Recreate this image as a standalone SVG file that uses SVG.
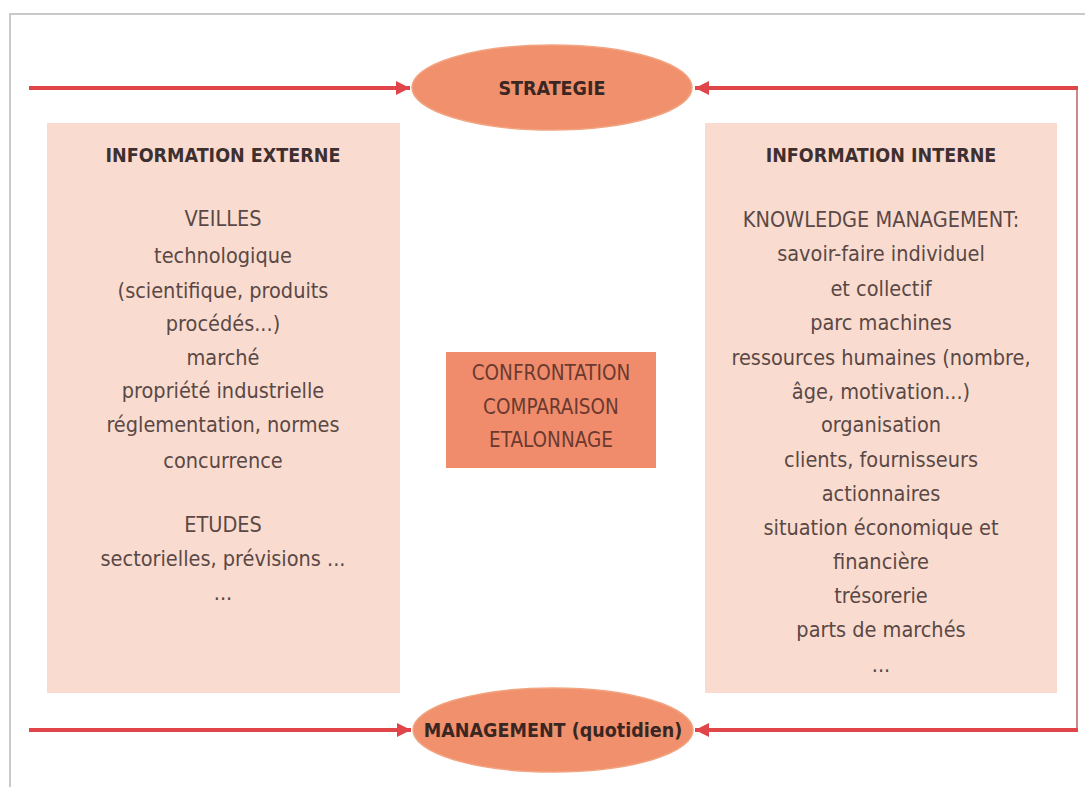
<svg xmlns="http://www.w3.org/2000/svg" width="1085" height="787" viewBox="0 0 1085 787">
<style>
.frame{stroke:#c9c9c9;stroke-width:2;fill:none}
.flow{stroke:#e0454a;stroke-width:4;fill:none}
.side{stroke:#c98a90;stroke-width:2;fill:none}
.box{fill:#f9dccf}
.ell{fill:#f0906c;stroke:#f2a37f;stroke-width:1.5}
.cbox{fill:#f08c6c}
.t{font-family:"DejaVu Sans Condensed","DejaVu Sans",sans-serif;font-size:21.5px;fill:#5a4846;text-anchor:middle}
.h{font-family:"DejaVu Sans Condensed","DejaVu Sans",sans-serif;font-size:19.5px;font-weight:bold;fill:#3e3030;text-anchor:middle}
.e{font-family:"DejaVu Sans Condensed","DejaVu Sans",sans-serif;font-size:19.5px;font-weight:bold;fill:#3a2622;text-anchor:middle}
.c{font-family:"DejaVu Sans Condensed","DejaVu Sans",sans-serif;font-size:20.5px;fill:#6a3a30;text-anchor:middle}
</style>
<defs>
<marker id="ah" viewBox="0 0 10 10" refX="10" refY="5" markerWidth="4" markerHeight="3.5" orient="auto" markerUnits="strokeWidth">
<path d="M0,0 L10,5 L0,10 z" fill="#e0454a"/>
</marker>
</defs>
<rect width="1085" height="787" fill="#ffffff"/>
<path class="frame" d="M10,787 L10,14 L1085,14"/>
<g id="connectors">
<path class="side" d="M1077,88 L1077,730"/>
<path class="flow" d="M29,88 L410,88" marker-end="url(#ah)"/>
<path class="flow" d="M1078,88 L695,88" marker-end="url(#ah)"/>
<path class="flow" d="M29,730 L411,730" marker-end="url(#ah)"/>
<path class="flow" d="M1078,730 L695,730" marker-end="url(#ah)"/>
</g>
<g id="strategie">
<ellipse class="ell" cx="552" cy="87.5" rx="140" ry="42.5"/>
<text class="e" x="552" y="95">STRATEGIE</text>
</g>
<g id="management">
<ellipse class="ell" cx="553" cy="730" rx="140" ry="42"/>
<text class="e" x="553" y="737">MANAGEMENT (quotidien)</text>
</g>
<g id="externe">
<rect class="box" x="47" y="123" width="353" height="570"/>
<text class="h" x="223" y="162">INFORMATION EXTERNE</text>
<text class="t" x="223" y="226">VEILLES</text>
<text class="t" x="223" y="263">technologique</text>
<text class="t" x="223" y="298">(scientifique, produits</text>
<text class="t" x="223" y="331">procédés...)</text>
<text class="t" x="223" y="365">marché</text>
<text class="t" x="223" y="398">propriété industrielle</text>
<text class="t" x="223" y="432">réglementation, normes</text>
<text class="t" x="223" y="468">concurrence</text>
<text class="t" x="223" y="532">ETUDES</text>
<text class="t" x="223" y="566">sectorielles, prévisions ...</text>
<text class="t" x="223" y="600">...</text>
</g>
<g id="confrontation">
<rect class="cbox" x="446" y="352" width="210" height="116"/>
<text class="c" x="551" y="380">CONFRONTATION</text>
<text class="c" x="551" y="414">COMPARAISON</text>
<text class="c" x="551" y="447">ETALONNAGE</text>
</g>
<g id="interne">
<rect class="box" x="705" y="123" width="352" height="570"/>
<text class="h" x="881" y="162">INFORMATION INTERNE</text>
<text class="t" x="881" y="227">KNOWLEDGE MANAGEMENT:</text>
<text class="t" x="881" y="261">savoir-faire individuel</text>
<text class="t" x="881" y="296">et collectif</text>
<text class="t" x="881" y="330">parc machines</text>
<text class="t" x="881" y="365">ressources humaines (nombre,</text>
<text class="t" x="881" y="399">âge, motivation...)</text>
<text class="t" x="881" y="432">organisation</text>
<text class="t" x="881" y="467">clients, fournisseurs</text>
<text class="t" x="881" y="501">actionnaires</text>
<text class="t" x="881" y="535">situation économique et</text>
<text class="t" x="881" y="569">financière</text>
<text class="t" x="881" y="603">trésorerie</text>
<text class="t" x="881" y="637">parts de marchés</text>
<text class="t" x="881" y="672">...</text>
</g>
</svg>
